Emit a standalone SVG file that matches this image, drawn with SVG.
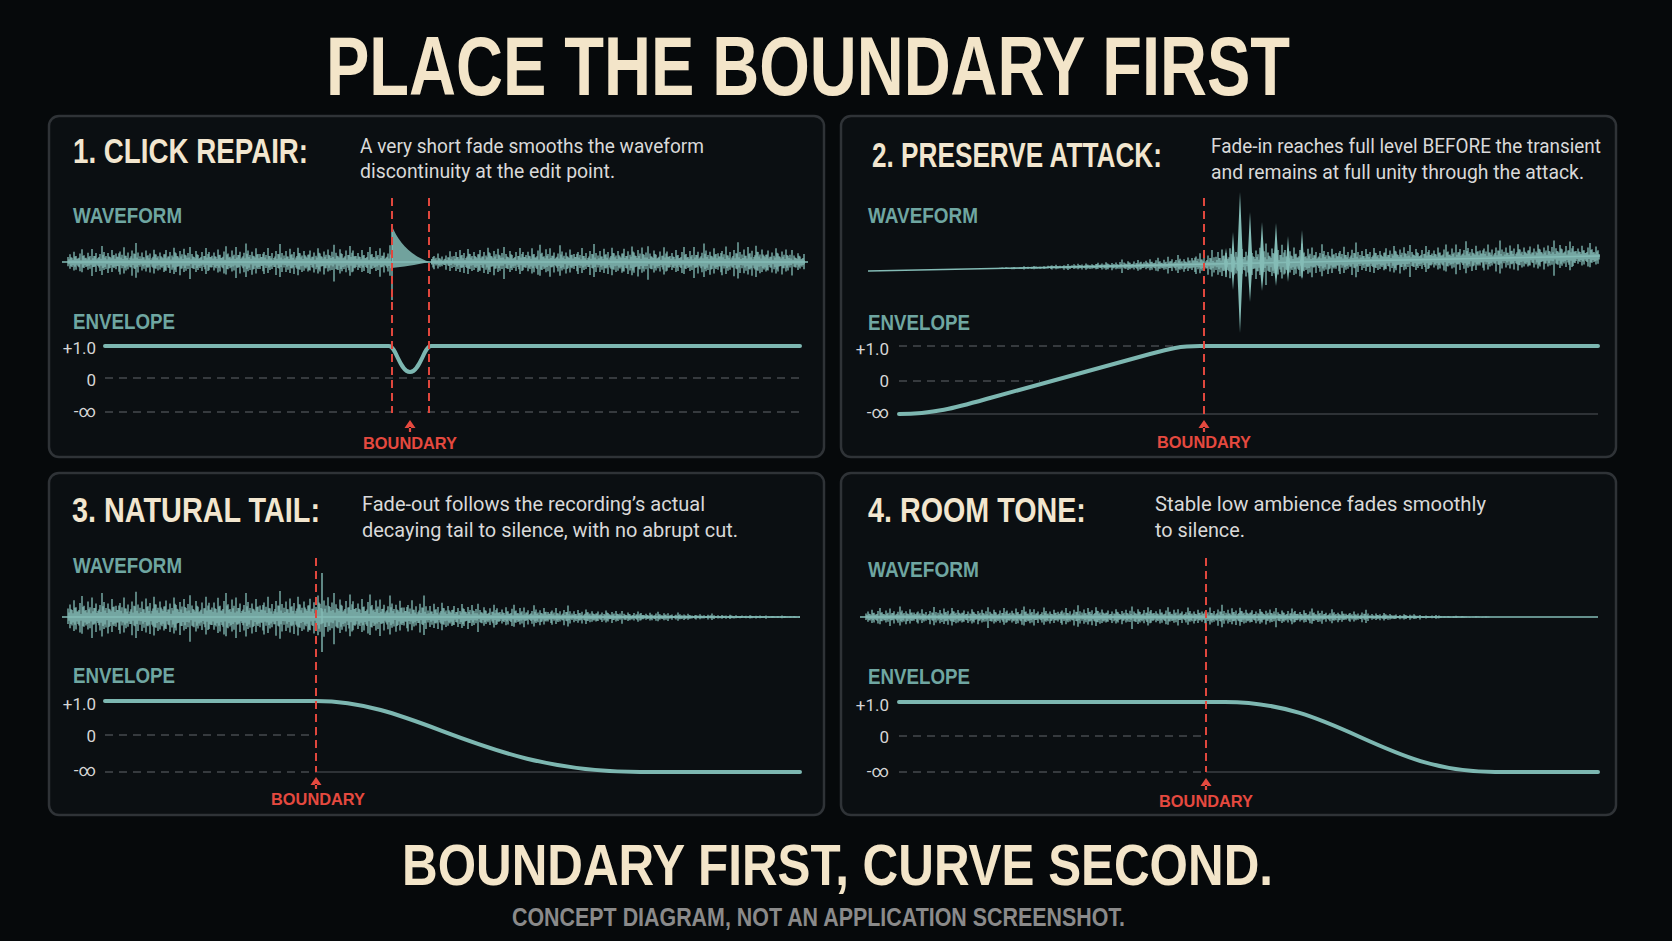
<svg xmlns="http://www.w3.org/2000/svg" xmlns:xlink="http://www.w3.org/1999/xlink" width="1672" height="941" viewBox="0 0 1672 941">
<style>
.bg{fill:#06090b}
.panel{fill:#0b0f12;stroke:#2f3337;stroke-width:2.5}
.disp{font-family:'Liberation Sans',Arial,sans-serif;font-weight:bold}
.head{fill:#f3e5c9}
.ptitle{font-size:35px;fill:#f2e6cf}
.desc{font-family:Roboto,'Liberation Sans',sans-serif;font-size:20px;fill:#d9d9d9}
.lbl{font-size:22px;fill:#6fa6a1}
.ax{font-family:Roboto,'DejaVu Sans',sans-serif;font-size:17px;fill:#d6d6d6;text-anchor:end}
.wv{stroke:#84bcb6;stroke-width:1.3;fill:none}
.wline{stroke:#84bcb6;stroke-width:1.4;fill:none}
.wfill{fill:#84bcb6}
.env{stroke:#7db7b1;stroke-width:4;fill:none;stroke-linecap:round;stroke-linejoin:round}
.grid{stroke:#45494d;stroke-width:1.5;stroke-dasharray:8 6;fill:none}
.gsolid{stroke:#3b3f43;stroke-width:1.5;fill:none}
.bnd{stroke:#e0473d;stroke-width:2;stroke-dasharray:8 5;fill:none}
.btxt{font-size:16.5px;fill:#e5493f;text-anchor:middle}
.arrow{fill:#e5493f}
</style>
<defs>
<path id="u1" class="wv" d="M0 -6V5M2 -9V8M4 -5V6M6 -12V10M8 -7V9M10 -4V5M12 -10V11M14 -15V12M16 -8V7M18 -5V6M20 -11V9M22 -7V8"/>
<path id="u2" class="wv" d="M0 -13V14M2 -6V5M4 -9V10M6 -4V4M8 -8V9M10 -16V13M12 -10V8M14 -6V7M16 -9V11M18 -5V6M20 -12V10M22 -7V6"/>
<path id="u3" class="wv" d="M0 -8V7M2 -5V4M4 -10V12M6 -7V6M8 -14V11M10 -6V8M12 -9V7M14 -4V5M16 -11V13M18 -8V6M20 -18V15M22 -9V10"/>
<path id="u4" class="wv" d="M0 -6V5M2 -10V9M4 -5V7M6 -12V10M8 -7V6M10 -9V11M12 -4V5M14 -13V12M16 -8V7M18 -6V9M20 -10V8M22 -5V6"/>
<path id="u5" class="wv" d="M0 -7V9M2 -11V8M4 -5V5M6 -9V10M8 -6V7M10 -13V11M12 -8V9M14 -5V4M16 -10V12M18 -7V6M20 -12V9M22 -6V8"/>
<path id="u6" class="wv" d="M0 -9V7M2 -15V17M4 -8V6M6 -5V7M8 -11V10M10 -7V8M12 -4V6M14 -10V9M16 -6V5M18 -14V12M20 -8V9M22 -5V5"/>
<g id="c1"><use href="#u1"/><use href="#u4" transform="translate(1,0) scale(1,0.55)"/></g>
<g id="c2"><use href="#u2"/><use href="#u5" transform="translate(1,0) scale(1,0.55)"/></g>
<g id="c3"><use href="#u3"/><use href="#u6" transform="translate(1,0) scale(1,0.55)"/></g>
<g id="c4"><use href="#u4"/><use href="#u1" transform="translate(1,0) scale(1,0.55)"/></g>
<g id="c5"><use href="#u5"/><use href="#u2" transform="translate(1,0) scale(1,0.55)"/></g>
<g id="c6"><use href="#u6"/><use href="#u3" transform="translate(1,0) scale(1,0.55)"/></g>
<path id="arw" d="M0 0L-5.5 8H5.5Z M-1.1 7H1.1V12H-1.1Z"/>
<clipPath id="cl1"><rect x="60" y="190" width="331" height="140"/></clipPath>
<clipPath id="cl2"><rect x="431" y="190" width="374" height="140"/></clipPath>
<clipPath id="cl3"><rect x="60" y="550" width="740" height="140"/></clipPath>
</defs>

<rect class="bg" x="0" y="0" width="1672" height="941"/>

<text id="title" class="disp head" x="326" y="95" font-size="83" textLength="964" lengthAdjust="spacingAndGlyphs">PLACE THE BOUNDARY FIRST</text>

<g id="panel-1">
<rect class="panel" x="49" y="116" width="775" height="341" rx="10"/>
<g transform="translate(73,163) scale(0.785,1)"><text class="disp ptitle" x="0" y="0" textLength="299.5" lengthAdjust="spacingAndGlyphs">1. CLICK REPAIR:</text></g>
<text class="desc" x="360" y="153" textLength="344" lengthAdjust="spacingAndGlyphs">A very short fade smooths the waveform</text>
<text class="desc" x="360" y="178" textLength="255" lengthAdjust="spacingAndGlyphs">discontinuity at the edit point.</text>
<text class="disp lbl" x="73" y="223" textLength="109" lengthAdjust="spacingAndGlyphs">WAVEFORM</text>
<text class="disp lbl" x="73" y="329" textLength="102" lengthAdjust="spacingAndGlyphs">ENVELOPE</text>
<path class="wline" d="M62 262H808"/>
<g clip-path="url(#cl1)">
<use href="#c1" transform="translate(68,262) scale(1,0.85)"/>
<use href="#c2" transform="translate(92,262) scale(1,1)"/>
<use href="#c3" transform="translate(116,262) scale(1,1.05)"/>
<use href="#c4" transform="translate(140,262) scale(1,0.95)"/>
<use href="#c5" transform="translate(164,262) scale(1,1.1)"/>
<use href="#c6" transform="translate(188,262) scale(1,1)"/>
<use href="#c1" transform="translate(212,262) scale(1,1.05)"/>
<use href="#c2" transform="translate(236,262) scale(1,1.15)"/>
<use href="#c3" transform="translate(260,262) scale(1,1)"/>
<use href="#c4" transform="translate(284,262) scale(1,1.1)"/>
<use href="#c5" transform="translate(308,262) scale(1,1.05)"/>
<use href="#c6" transform="translate(332,262) scale(1,1.15)"/>
<use href="#c1" transform="translate(356,262) scale(1,1)"/>
<use href="#c2" transform="translate(380,262) scale(1,1.05)"/>
</g>
<g clip-path="url(#cl2)">
<use href="#c3" transform="translate(430,262) scale(1,0.6)"/>
<use href="#c4" transform="translate(454,262) scale(1,1)"/>
<use href="#c5" transform="translate(478,262) scale(1,1.1)"/>
<use href="#c6" transform="translate(502,262) scale(1,1)"/>
<use href="#c1" transform="translate(526,262) scale(1,1.15)"/>
<use href="#c2" transform="translate(550,262) scale(1,1.05)"/>
<use href="#c3" transform="translate(574,262) scale(1,1)"/>
<use href="#c4" transform="translate(598,262) scale(1,1.1)"/>
<use href="#c5" transform="translate(622,262) scale(1,1.2)"/>
<use href="#c6" transform="translate(646,262) scale(1,1.05)"/>
<use href="#c1" transform="translate(670,262) scale(1,1)"/>
<use href="#c2" transform="translate(694,262) scale(1,1.15)"/>
<use href="#c3" transform="translate(718,262) scale(1,1.1)"/>
<use href="#c4" transform="translate(742,262) scale(1,1.25)"/>
<use href="#c5" transform="translate(766,262) scale(1,1.05)"/>
<use href="#c6" transform="translate(790,262) scale(1,0.8)"/>
</g>
<path class="wfill" fill-opacity="0.85" d="M392 262V226C398 241 410 256 430 262C415 265 402 267 392 268Z"/>
<path class="wline" stroke-width="2.5" d="M392 226V300"/>
<path class="grid" d="M105 378H800M105 412H800"/>
<path class="env" d="M105 346H389C396 346 400 372 410 372C420 372 424 346 431 346H800"/>
<text class="ax" x="96" y="354">+1.0</text>
<text class="ax" x="96" y="386">0</text>
<text class="ax" x="96" y="417">-∞</text>
</g>

<g id="panel-2">
<rect class="panel" x="841" y="116" width="775" height="341" rx="10"/>
<g transform="translate(872,167) scale(0.734,1)"><text class="disp ptitle" x="0" y="0" textLength="395" lengthAdjust="spacingAndGlyphs">2. PRESERVE ATTACK:</text></g>
<text class="desc" x="1211" y="153" textLength="390" lengthAdjust="spacingAndGlyphs">Fade-in reaches full level BEFORE the transient</text>
<text class="desc" x="1211" y="179" textLength="373" lengthAdjust="spacingAndGlyphs">and remains at full unity through the attack.</text>
<text class="disp lbl" x="868" y="223" textLength="110" lengthAdjust="spacingAndGlyphs">WAVEFORM</text>
<text class="disp lbl" x="868" y="330" textLength="102" lengthAdjust="spacingAndGlyphs">ENVELOPE</text>
<path class="wline" d="M868 271L1600 256"/>
<use href="#c1" transform="translate(1000,268.3) scale(1,0.08)"/>
<use href="#c2" transform="translate(1024,267.8) scale(1,0.12)"/>
<use href="#c3" transform="translate(1048,267.3) scale(1,0.18)"/>
<use href="#c4" transform="translate(1072,266.8) scale(1,0.25)"/>
<use href="#c5" transform="translate(1096,266.3) scale(1,0.32)"/>
<use href="#c6" transform="translate(1120,265.8) scale(1,0.42)"/>
<use href="#c1" transform="translate(1144,265.3) scale(1,0.5)"/>
<use href="#c2" transform="translate(1168,264.9) scale(1,0.62)"/>
<use href="#c3" transform="translate(1192,264.4) scale(1,0.8)"/>
<use href="#c4" transform="translate(1216,263.9) scale(1,1.2)"/>
<use href="#c5" transform="translate(1240,263.4) scale(1,1.3)"/>
<use href="#c6" transform="translate(1264,262.9) scale(1,1.3)"/>
<use href="#c1" transform="translate(1288,262.4) scale(1,1.25)"/>
<use href="#c2" transform="translate(1312,261.9) scale(1,1.1)"/>
<use href="#c3" transform="translate(1336,261.4) scale(1,1.05)"/>
<use href="#c4" transform="translate(1360,260.9) scale(1,1)"/>
<use href="#c5" transform="translate(1384,260.4) scale(1,1.1)"/>
<use href="#c6" transform="translate(1408,259.9) scale(1,1)"/>
<use href="#c1" transform="translate(1432,259.4) scale(1,1)"/>
<use href="#c2" transform="translate(1456,258.9) scale(1,1.1)"/>
<use href="#c3" transform="translate(1480,258.5) scale(1,1)"/>
<use href="#c4" transform="translate(1504,258) scale(1,1.05)"/>
<use href="#c5" transform="translate(1528,257.5) scale(1,1)"/>
<use href="#c6" transform="translate(1552,257) scale(1,1.1)"/>
<use href="#c1" transform="translate(1576,256.5) scale(1,0.9)"/>
<path class="wfill" d="M1224 263L1226 248L1228 263L1226 278Z M1231 263L1233 232L1235 263L1233 290Z M1237 263L1240 192L1243 263L1240 333Z M1247.5 263L1250 212L1252.5 263L1250 302Z M1259.5 263L1262 222L1264.5 263L1262 291Z M1273.5 263L1276 223L1278.5 263L1276 286Z M1286 263L1288 236L1290 263L1288 282Z M1300 262L1302 230L1304 262L1302 280Z"/>
<path class="grid" d="M899 346H1195M899 381H1040"/>
<path class="gsolid" d="M899 414H1598"/>
<path class="env" d="M899 414C935 414 958 407 990 398L1150 354C1170 348.5 1180 346 1200 346H1598"/>
<text class="ax" x="889" y="355">+1.0</text>
<text class="ax" x="889" y="387">0</text>
<text class="ax" x="889" y="418">-∞</text>
</g>

<g id="panel-3">
<rect class="panel" x="49" y="473" width="775" height="342" rx="10"/>
<g transform="translate(72,522) scale(0.808,1)"><text class="disp ptitle" x="0" y="0" textLength="307" lengthAdjust="spacingAndGlyphs">3. NATURAL TAIL:</text></g>
<text class="desc" x="362" y="511" textLength="343" lengthAdjust="spacingAndGlyphs">Fade-out follows the recording’s actual</text>
<text class="desc" x="362" y="537" textLength="376" lengthAdjust="spacingAndGlyphs">decaying tail to silence, with no abrupt cut.</text>
<text class="disp lbl" x="73" y="573" textLength="109" lengthAdjust="spacingAndGlyphs">WAVEFORM</text>
<text class="disp lbl" x="73" y="683" textLength="102" lengthAdjust="spacingAndGlyphs">ENVELOPE</text>
<path class="wline" d="M62 617H800"/>
<g clip-path="url(#cl3)">
<use href="#c1" transform="translate(68,617) scale(1,1.4)"/>
<use href="#c2" transform="translate(92,617) scale(1,1.5)"/>
<use href="#c3" transform="translate(116,617) scale(1,1.4)"/>
<use href="#c4" transform="translate(140,617) scale(1,1.55)"/>
<use href="#c5" transform="translate(164,617) scale(1,1.5)"/>
<use href="#c6" transform="translate(188,617) scale(1,1.45)"/>
<use href="#c1" transform="translate(212,617) scale(1,1.6)"/>
<use href="#c2" transform="translate(236,617) scale(1,1.5)"/>
<use href="#c3" transform="translate(260,617) scale(1,1.45)"/>
<use href="#c4" transform="translate(284,617) scale(1,1.55)"/>
<use href="#c5" transform="translate(308,617) scale(1,1.65)"/>
<use href="#c6" transform="translate(332,617) scale(1,1.6)"/>
<use href="#c1" transform="translate(356,617) scale(1,1.5)"/>
<use href="#c2" transform="translate(380,617) scale(1,1.35)"/>
<use href="#c3" transform="translate(404,617) scale(1,1.2)"/>
<use href="#c4" transform="translate(428,617) scale(1,1.1)"/>
<use href="#c5" transform="translate(452,617) scale(1,1)"/>
<use href="#c6" transform="translate(476,617) scale(1,0.88)"/>
<use href="#c1" transform="translate(500,617) scale(1,0.82)"/>
<use href="#c2" transform="translate(524,617) scale(1,0.74)"/>
<use href="#c3" transform="translate(548,617) scale(1,0.64)"/>
<use href="#c4" transform="translate(572,617) scale(1,0.58)"/>
<use href="#c5" transform="translate(596,617) scale(1,0.5)"/>
<use href="#c6" transform="translate(620,617) scale(1,0.4)"/>
<use href="#c1" transform="translate(644,617) scale(1,0.35)"/>
<use href="#c2" transform="translate(668,617) scale(1,0.28)"/>
<use href="#c3" transform="translate(692,617) scale(1,0.2)"/>
<use href="#c4" transform="translate(716,617) scale(1,0.17)"/>
<use href="#c5" transform="translate(740,617) scale(1,0.13)"/>
<use href="#c6" transform="translate(764,617) scale(1,0.1)"/>
<use href="#c1" transform="translate(788,617) scale(1,0.08)"/>
</g>
<path class="wline" stroke-width="1.6" d="M322 573V652"/>
<path class="grid" d="M105 735H316M105 772H316"/>
<path class="gsolid" d="M316 772H800"/>
<path class="env" d="M105 701H316C420 701 480 772 640 772H800"/>
<text class="ax" x="96" y="710">+1.0</text>
<text class="ax" x="96" y="742">0</text>
<text class="ax" x="96" y="776">-∞</text>
</g>

<g id="panel-4">
<rect class="panel" x="841" y="473" width="775" height="342" rx="10"/>
<g transform="translate(868,522) scale(0.818,1)"><text class="disp ptitle" x="0" y="0" textLength="266.4" lengthAdjust="spacingAndGlyphs">4. ROOM TONE:</text></g>
<text class="desc" x="1155" y="511" textLength="331" lengthAdjust="spacingAndGlyphs">Stable low ambience fades smoothly</text>
<text class="desc" x="1155" y="537" textLength="90" lengthAdjust="spacingAndGlyphs">to silence.</text>
<text class="disp lbl" x="868" y="577" textLength="111" lengthAdjust="spacingAndGlyphs">WAVEFORM</text>
<text class="disp lbl" x="868" y="684" textLength="102" lengthAdjust="spacingAndGlyphs">ENVELOPE</text>
<path class="wline" d="M860 617H1598"/>
<use href="#c1" transform="translate(866,617) scale(1,0.6)"/>
<use href="#c2" transform="translate(890,617) scale(1,0.65)"/>
<use href="#c3" transform="translate(914,617) scale(1,0.55)"/>
<use href="#c4" transform="translate(938,617) scale(1,0.7)"/>
<use href="#c5" transform="translate(962,617) scale(1,0.6)"/>
<use href="#c6" transform="translate(986,617) scale(1,0.65)"/>
<use href="#c1" transform="translate(1010,617) scale(1,0.7)"/>
<use href="#c2" transform="translate(1034,617) scale(1,0.6)"/>
<use href="#c3" transform="translate(1058,617) scale(1,0.65)"/>
<use href="#c4" transform="translate(1082,617) scale(1,0.75)"/>
<use href="#c5" transform="translate(1106,617) scale(1,0.6)"/>
<use href="#c6" transform="translate(1130,617) scale(1,0.7)"/>
<use href="#c1" transform="translate(1154,617) scale(1,0.65)"/>
<use href="#c2" transform="translate(1178,617) scale(1,0.6)"/>
<use href="#c3" transform="translate(1202,617) scale(1,0.68)"/>
<use href="#c4" transform="translate(1226,617) scale(1,0.72)"/>
<use href="#c5" transform="translate(1250,617) scale(1,0.62)"/>
<use href="#c6" transform="translate(1274,617) scale(1,0.6)"/>
<use href="#c1" transform="translate(1298,617) scale(1,0.56)"/>
<use href="#c2" transform="translate(1322,617) scale(1,0.48)"/>
<use href="#c3" transform="translate(1346,617) scale(1,0.4)"/>
<use href="#c4" transform="translate(1370,617) scale(1,0.3)"/>
<use href="#c5" transform="translate(1394,617) scale(1,0.22)"/>
<use href="#c6" transform="translate(1418,617) scale(1,0.14)"/>
<use href="#c1" transform="translate(1442,617) scale(1,0.08)"/>
<use href="#c2" transform="translate(1466,617) scale(1,0.04)"/>
<path class="grid" d="M899 736H1206M899 772H1206"/>
<path class="gsolid" d="M1206 772H1598"/>
<path class="env" d="M899 702H1225C1340 702 1380 772 1495 772H1598"/>
<text class="ax" x="889" y="711">+1.0</text>
<text class="ax" x="889" y="743">0</text>
<text class="ax" x="889" y="777">-∞</text>
</g>

<g id="connectors">
<path class="bnd" d="M392 198V413M429 198V413"/>
<use href="#arw" class="arrow" transform="translate(410,420)"/>
<text class="disp btxt" x="410" y="449" textLength="94" lengthAdjust="spacingAndGlyphs">BOUNDARY</text>
<path class="bnd" d="M1204 198V415"/>
<use href="#arw" class="arrow" transform="translate(1204,420)"/>
<text class="disp btxt" x="1204" y="448" textLength="94" lengthAdjust="spacingAndGlyphs">BOUNDARY</text>
<path class="bnd" d="M316 558V772"/>
<use href="#arw" class="arrow" transform="translate(316,777)"/>
<text class="disp btxt" x="318" y="805" textLength="94" lengthAdjust="spacingAndGlyphs">BOUNDARY</text>
<path class="bnd" d="M1206 558V772"/>
<use href="#arw" class="arrow" transform="translate(1206,778)"/>
<text class="disp btxt" x="1206" y="807" textLength="94" lengthAdjust="spacingAndGlyphs">BOUNDARY</text>
</g>

<text id="tagline" class="disp head" x="402" y="885" font-size="58" textLength="871" lengthAdjust="spacingAndGlyphs">BOUNDARY FIRST, CURVE SECOND.</text>
<text id="note" class="disp" fill="#8a8a8a" x="512" y="926" font-size="26" textLength="613" lengthAdjust="spacingAndGlyphs">CONCEPT DIAGRAM, NOT AN APPLICATION SCREENSHOT.</text>
</svg>
